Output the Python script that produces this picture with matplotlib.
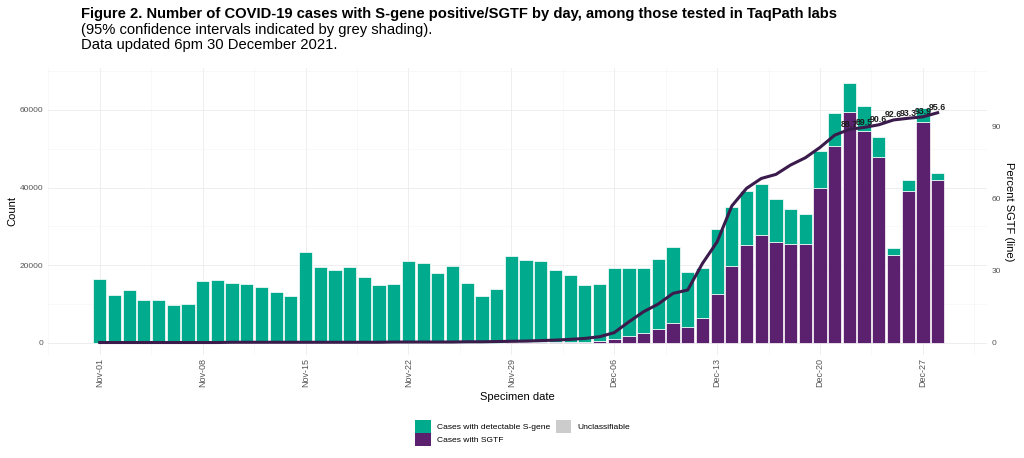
#!/usr/bin/env python3
"""
Figure 2: COVID-19 cases with S-gene positive / SGTF by day (TaqPath labs).
"""

import numpy as np
import matplotlib.pyplot as plt
from matplotlib.patches import Patch
from matplotlib.ticker import MultipleLocator

plt.rcParams['font.family'] = ['Liberation Sans', 'DejaVu Sans']

# Specimen dates 01 Nov - 28 Dec 2021 (58 days)
dates = np.arange('2021-11-01', '2021-12-29', dtype='datetime64[D]')

# Total cases tested per day (top of each bar)
total = np.array([
    16500, 12400, 13600, 11000, 11000, 9800, 10100,
    16000, 16200, 15400, 15300, 14500, 13200, 12100,
    23300, 19600, 18900, 19500, 16900, 15000, 15300,
    21000, 20600, 18100, 19700, 15500, 12200, 13800,
    22400, 21400, 21000, 18700, 17500, 14800, 15100,
    19400, 19400, 19400, 21500, 24600, 18200, 19200,
    29400, 34900, 39100, 40800, 37100, 34600, 33100,
    49300, 59100, 66800, 60900, 52900, 24400, 41900,
    60400, 43800,
])

# Cases with SGTF
sgtf = np.array([
    30, 25, 30, 25, 25, 20, 25,
    35, 35, 40, 40, 40, 40, 40,
    60, 55, 55, 60, 55, 55, 60,
    80, 80, 75, 90, 80, 70, 90,
    150, 170, 200, 230, 280, 340, 450,
    950, 1800, 2500, 3600, 5100, 4000, 6400,
    12600, 19800, 25100, 27800, 25900, 25500, 25500,
    39800, 50700, 59400, 54600, 47900, 22600, 39000,
    56900, 42000,
])

# Percent SGTF (line)
pct_sgtf = np.array([
    0.2, 0.2, 0.2, 0.2, 0.2, 0.2, 0.2,
    0.2, 0.2, 0.3, 0.3, 0.3, 0.3, 0.3,
    0.3, 0.3, 0.3, 0.3, 0.3, 0.3, 0.4,
    0.4, 0.4, 0.4, 0.4, 0.5, 0.5, 0.6,
    0.7, 0.8, 1.0, 1.2, 1.5, 1.9, 2.6,
    4.3, 8.8, 13.0, 16.2, 20.6, 22.0, 33.0,
    42.0, 56.9, 64.2, 68.3, 70.0, 73.9, 76.9,
    81.2, 86.3, 88.7, 89.5, 90.6, 92.6, 93.3,
    93.9, 95.6,
])

# last 7 days are labelled
n_labels = 7
scale = 620  # secondary axis: count = pct * scale

green = '#00AA8C'
purple = '#5B216F'
line_col = '#3A1B4C'
tick_col = '#555555'

fig = plt.figure(figsize=(10.24, 4.58), dpi=100)
ax = fig.add_axes([48 / 1024, 1 - 355 / 458, (987 - 48) / 1024, (355 - 68) / 458])

x = (dates - dates[0]).astype(int)
ax.bar(x, sgtf, width=0.9, color=purple, edgecolor='white', lw=0.5, zorder=2)
ax.bar(x, total - sgtf, bottom=sgtf, width=0.9, color=green,
       edgecolor='white', lw=0.5, zorder=2)

ax.set_xlim(-3.52, 60.36)
ax.set_ylim(-3090, 70785)

# x ticks weekly
week_pos = x[::7]
ax.set_xticks(week_pos)
ax.set_xticklabels([str(d.astype(object).strftime('%b-%d')) for d in dates[::7]],
                   rotation=90, fontsize=6.5, color=tick_col)
ax.xaxis.set_minor_locator(MultipleLocator(3.5))
ax.set_yticks([0, 20000, 40000, 60000])
ax.yaxis.set_minor_locator(MultipleLocator(10000))
ax.tick_params(axis='y', labelsize=6, labelcolor=tick_col, pad=3.5)
ax.tick_params(axis='x', pad=2)
ax.tick_params(which='both', length=0)
ax.grid(True, which='major', color='#EBEBEB', lw=0.6, zorder=0)
ax.grid(True, which='minor', color='#F4F4F4', lw=0.4, zorder=0)
ax.set_axisbelow(True)
for s in ax.spines.values():
    s.set_visible(False)

ax.set_ylabel('Count', fontsize=8, labelpad=1.5)
ax.set_xlabel('Specimen date', fontsize=8, labelpad=4)

# percent line on secondary axis
ax2 = ax.twinx()
ax2.set_ylim(ax.get_ylim()[0] / scale, ax.get_ylim()[1] / scale)
ax2.plot(x, pct_sgtf, color=line_col, lw=2.2, zorder=3)
for xi, p in zip(x[-n_labels:], pct_sgtf[-n_labels:]):
    ax2.text(xi, p + 0.3, f'{p:.1f}', ha='center', va='bottom',
             fontsize=6.3, fontweight='bold', color='#1a1a1a')
ax2.set_yticks([0, 30, 60, 90])
ax2.tick_params(length=0, labelsize=6, labelcolor=tick_col, pad=3.5)
for s in ax2.spines.values():
    s.set_visible(False)
ax2.set_ylabel('Percent SGTF (line)', fontsize=8, rotation=270, labelpad=9)

# title block
fig.text(81 / 1024, 1 - 14 / 458,
         'Figure 2. Number of COVID-19 cases with S-gene positive/SGTF by day, '
         'among those tested in TaqPath labs',
         fontsize=10.6, fontweight='bold', va='center')
fig.text(81 / 1024, 1 - 30 / 458,
         '(95% confidence intervals indicated by grey shading).',
         fontsize=10.6, va='center')
fig.text(81 / 1024, 1 - 45 / 458, 'Data updated 6pm 30 December 2021.',
         fontsize=10.6, va='center')

handles = [Patch(facecolor=green), Patch(facecolor=purple), Patch(facecolor='#CCCCCC')]
labels = ['Cases with detectable S-gene', 'Cases with SGTF', 'Unclassifiable']
fig.legend(handles, labels, ncol=2, loc='center',
           bbox_to_anchor=(523 / 1024, 1 - 433 / 458), frameon=False,
           fontsize=6.1, handlelength=1.8, handleheight=2.0,
           handletextpad=0.8, columnspacing=0.6, labelspacing=0.05)

plt.savefig('out.png', dpi=100)
print('done')
